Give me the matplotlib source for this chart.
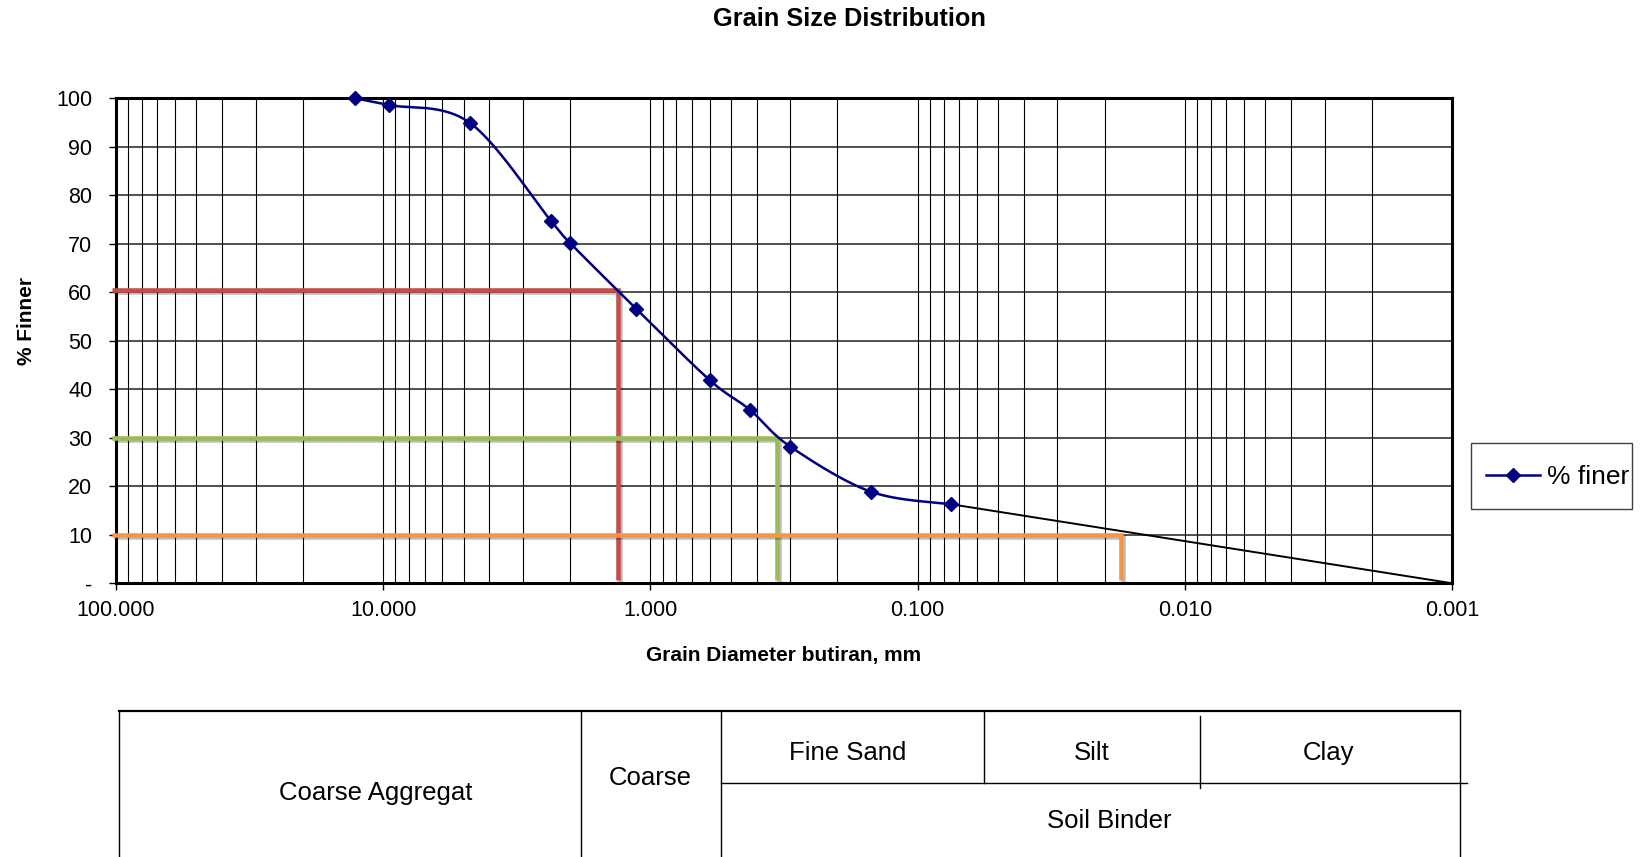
import numpy as np
import matplotlib.pyplot as plt
from matplotlib import patheffects
from matplotlib.lines import Line2D
from matplotlib.patches import Rectangle
from matplotlib.ticker import FixedLocator, LogLocator, NullFormatter

plt.rcParams['font.family'] = ['Liberation Sans', 'DejaVu Sans']

# sieve analysis result
diameter_mm = [12.7, 9.5, 4.75, 2.36, 2.0, 1.13, 0.6, 0.425, 0.3, 0.15, 0.075]
pct_finer = [100.0, 98.6, 95.0, 74.8, 70.2, 56.6, 41.9, 35.8, 28.2, 18.9, 16.3]

# extrapolated tail below the no.200 sieve
tail_mm = [0.075, 0.001]
tail_finer = [16.3, 0.0]

# D60 / D30 / D10 read-off
d_pct = [60.5, 30.0, 10.0]
d_mm = [1.32, 0.335, 0.0174]
d_colors = ['#C0504D', '#9BBB59', '#F79646']

x_ticks = [100, 10, 1, 0.1, 0.01, 0.001]
x_ticklabels = ['100.000', '10.000', '1.000', '0.100', '0.010', '0.001']
y_ticks = list(range(0, 101, 10))
y_ticklabels = ['-'] + [str(v) for v in y_ticks[1:]]

# soil classification strip under the chart
zone_names = ['Coarse Aggregat', 'Coarse', 'Fine Sand', 'Silt', 'Clay', 'Soil Binder']


def smooth(xs, ys, n=40):
    # bezier smoothing like a spreadsheet "smoothed line", done in log-x space
    p = np.column_stack([np.log10(xs), ys])
    p = np.vstack([p[0], p, p[-1]])
    t = np.linspace(0, 1, n, endpoint=False)[:, None]
    segs = []
    for i in range(1, len(p) - 2):
        p0, p1, p2, p3 = p[i - 1], p[i], p[i + 1], p[i + 2]
        c1 = p1 + (p2 - p0) / 6.0
        c2 = p2 - (p3 - p1) / 6.0
        segs.append((1 - t) ** 3 * p1 + 3 * (1 - t) ** 2 * t * c1
                    + 3 * (1 - t) * t ** 2 * c2 + t ** 3 * p2)
    segs.append(p[-2][None])
    out = np.vstack(segs)
    return 10 ** out[:, 0], out[:, 1]


W, H = 1651, 857
fig = plt.figure(figsize=(W / 100, H / 100), dpi=100)

ax = fig.add_axes([115.8 / W, 1 - 583.3 / H, (1452.3 - 115.8) / W, (583.3 - 98.3) / H])
ax.set_xscale('log')
ax.set_xlim(100, 0.001)
ax.set_ylim(0, 100)

ax.xaxis.set_major_locator(FixedLocator(x_ticks))
ax.set_xticklabels(x_ticklabels)
ax.xaxis.set_minor_locator(LogLocator(base=10, subs=np.arange(2, 10)))
ax.xaxis.set_minor_formatter(NullFormatter())
ax.set_yticks(y_ticks)
ax.set_yticklabels(y_ticklabels)

ax.tick_params(axis='both', which='major', labelsize=15.5, length=5, width=1)
ax.tick_params(axis='x', which='major', pad=7)
ax.tick_params(axis='y', which='major', pad=12)
ax.tick_params(axis='x', which='minor', length=0)
ax.grid(axis='x', which='both', color='black', lw=0.8)
ax.grid(axis='y', which='major', color='#222222', lw=1.1)
ax.set_axisbelow(True)
for sp in ax.spines.values():
    sp.set_linewidth(2.2)
    sp.set_color('black')

# read-off lines for D60, D30, D10
shadow = [patheffects.SimpleLineShadow(offset=(1.5, -1.5), alpha=0.25), patheffects.Normal()]
for p, d, c in zip(d_pct, d_mm, d_colors):
    ax.plot([103.5, d, d], [p, p, 0.6], color=c, lw=3.3, clip_on=False,
            solid_joinstyle='miter', solid_capstyle='butt', zorder=3, path_effects=shadow)

ax.plot(tail_mm, tail_finer, color='black', lw=1.4, zorder=4)
sx, sy = smooth(diameter_mm, pct_finer)
ax.plot(sx, sy, color='#000080', lw=1.8, zorder=5, clip_on=False)
ax.plot(diameter_mm, pct_finer, ls='none', marker='D', ms=7, color='#000080',
        zorder=6, clip_on=False)

ax.set_xlabel('Grain Diameter butiran, mm', fontsize=15, fontweight='bold', va='center')
ax.xaxis.set_label_coords(0.5, -(656 - 583.3) / 485.0)
ax.set_ylabel('% Finner', fontsize=15, fontweight='bold', va='center')
ax.yaxis.set_label_coords((27 - 115.8) / 1336.5, (583.3 - 321) / 485.0)

fig.text(849 / W, 1 - 19 / H, 'Grain Size Distribution', fontsize=18.3, fontweight='bold',
         ha='center', va='center')

# legend: handle and text, with its own box
handle = Line2D([], [], color='#000080', lw=1.8, marker='D', ms=7)
fig.legend([handle], ['% finer'], loc='center left', bbox_to_anchor=(1486 / W, 1 - 477 / H),
           fontsize=19, frameon=False, borderpad=0, borderaxespad=0,
           handlelength=2.05, handletextpad=0.25)
fig.add_artist(Rectangle((1471 / W, 1 - 509 / H), (1632 - 1471) / W, (509 - 443) / H,
                         transform=fig.transFigure, fill=False, ec='#404040', lw=1.0))

# classification strip, laid out in pixel units
tab = fig.add_axes([0, 0, 1, 1], zorder=-1)
tab.set_xlim(0, W)
tab.set_ylim(H, 0)
tab.axis('off')
lk = dict(color='black', lw=1.0)
tab.plot([119, 1460], [711, 711], color='black', lw=1.6)
for x in [119, 581, 721, 1460]:
    tab.plot([x, x], [711, H], **lk)
tab.plot([721, 1467], [783, 783], **lk)
tab.plot([984, 984], [711, 783], **lk)
tab.plot([1200, 1200], [716, 788], **lk)

zone_xy = [(376, 793), (650, 778), (848, 753), (1092, 753), (1328, 753), (1109, 821)]
for name, (x, y) in zip(zone_names, zone_xy):
    tab.text(x, y, name, fontsize=18.5, ha='center', va='center')

fig.savefig('out.png', dpi=100)
